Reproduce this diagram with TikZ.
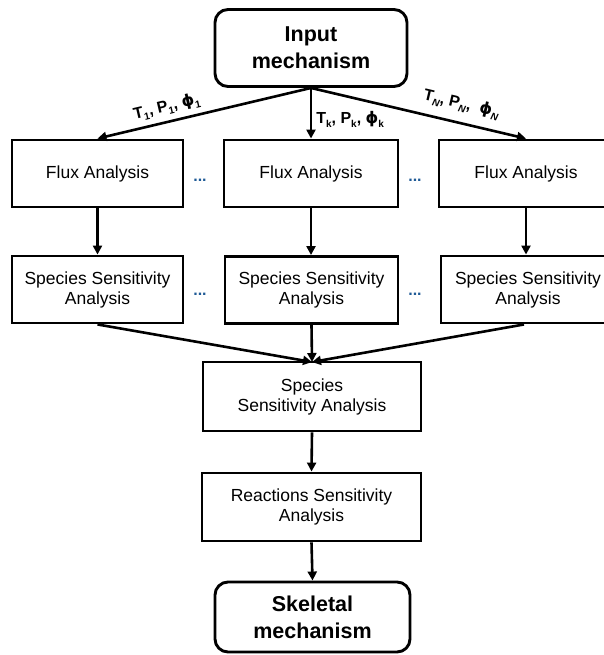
\documentclass[tikz,border=0pt]{standalone}
\usepackage{fontspec}
\setmainfont{Liberation Sans}
\newfontfamily\phifont{DejaVu Sans}
\usetikzlibrary{arrows.meta}
\definecolor{dotblue}{HTML}{1F5A96}
\newcommand{\lowidx}[1]{\raisebox{-0.45ex}{\fontsize{10}{10}\selectfont #1}}
\newcommand{\myphi}{{\phifont\bfseries ϕ}}
\begin{document}
\begin{tikzpicture}[x=1pt,y=-1pt,
  box/.style={draw, line width=2.9pt, inner sep=0pt, align=center,
    font=\fontsize{17.5}{20}\selectfont},
  endbox/.style={draw, line width=2.9pt, rounded corners=13pt, inner sep=0pt,
    align=center, font=\fontsize{21.5}{27}\selectfont\bfseries},
  arr/.style={line width=2.6pt, -{Triangle[length=9pt,width=9pt]}},
  lbl/.style={font=\fontsize{16}{18}\selectfont\bfseries, inner sep=1pt},
  dots/.style={text=dotblue, font=\fontsize{16}{16}\selectfont\bfseries, inner sep=0pt}]
\useasboundingbox (0,0) rectangle (604,655);

\node[endbox, minimum width=192pt, minimum height=77pt] (in) at (311,48) {Input\\mechanism};

\node[box, minimum width=171pt, minimum height=67pt] (f1) at (97.5,173.5) {Flux Analysis};
\node[box, minimum width=174pt, minimum height=67pt] (fk) at (311,173.5) {Flux Analysis};
\node[box, minimum width=174pt, minimum height=67pt] (fn) at (526,173.5) {Flux Analysis};

\node[box, minimum width=171pt, minimum height=67pt] (s1) at (97.5,289.5) {Species Sensitivity\\Analysis};
\node[box, minimum width=173pt, minimum height=67pt] (sk) at (311.5,290) {Species Sensitivity\\Analysis};
\node[box, minimum width=174pt, minimum height=67pt] (sn) at (528,289.5) {Species Sensitivity\\Analysis};

\node[box, minimum width=218pt, minimum height=69pt] (sa) at (312,396.5) {Species\\Sensitivity Analysis};
\node[box, minimum width=219pt, minimum height=68pt] (ra) at (311.5,507) {Reactions Sensitivity\\Analysis};
\node[endbox, minimum width=195pt, minimum height=70pt] (sk2) at (312.5,617) {Skeletal\\mechanism};

\node[dots] (d1) at (200,180) {...};
\node[dots] (d2) at (415,180) {...};
\node[dots] (d3) at (200,294) {...};
\node[dots] (d4) at (415,294) {...};

\draw[arr] (in.south) -- (f1.north)
  node[lbl, pos=0.66, sloped, above=4pt] {T\lowidx{1}, P\lowidx{1}, \myphi\lowidx{1}};
\draw[arr] (in.south) -- (fk.north)
  node[lbl, pos=0.62, right=3pt] {T\lowidx{k}, P\lowidx{k}, \myphi\lowidx{k}};
\draw[arr] (in.south) -- (fn.north)
  node[lbl, pos=0.68, sloped, above=8pt] {T\lowidx{\itshape N}, P\lowidx{\itshape N}, \ \myphi\lowidx{\itshape N}};

\draw[arr] (f1.south) -- (s1.south |- s1.north);
\draw[arr] (fk.south) -- (fk.south |- sk.north);
\draw[arr] (fn.south) -- (fn.south |- sn.north);

\coordinate (m) at (312,362);
\draw[arr] (s1.south) -- (m);
\draw[arr] (sk.south) -- (m);
\draw[arr] (sn.south -| 524,0) -- (m);

\draw[arr] (sa.south) -- (ra.north);
\draw[arr] (ra.south) -- (sk2.north);
\end{tikzpicture}
\end{document}
